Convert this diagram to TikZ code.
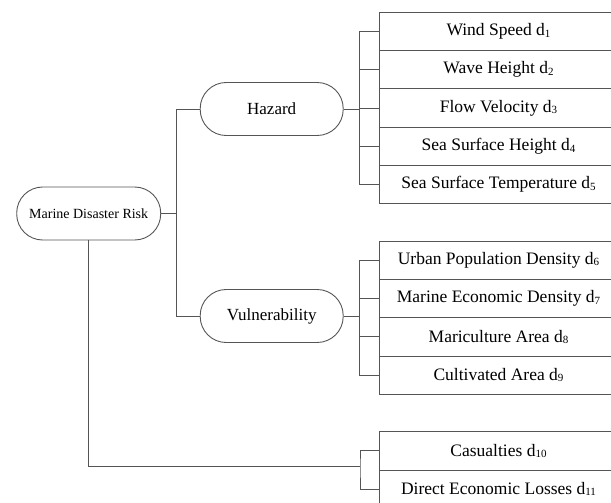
\documentclass[tikz,border=0pt]{standalone}
\usepackage{fontspec}
\setmainfont{Liberation Serif}
\usepackage{tikz}
\definecolor{linegray}{RGB}{85,85,85}
\newcommand{\idx}[1]{\raisebox{-0.2ex}{\fontsize{11}{11}\selectfont #1}}

\begin{document}
\begin{tikzpicture}[x=1pt,y=-1pt,line width=0.9pt,
    pill/.style={draw=linegray,rounded corners=26pt,minimum width=143pt,minimum height=53pt,
      inner sep=0pt,font=\fontsize{17}{20}\selectfont},
    factor/.style={draw=linegray,minimum width=238pt,minimum height=38.3pt,inner sep=0pt,
      font=\fontsize{17.5}{20}\selectfont},
    link/.style={draw=linegray}]
  \useasboundingbox (0,0) rectangle (611,503);
  \clip (0,0) rectangle (611,503);
  % left side
  \node[pill,minimum width=144pt,font=\fontsize{14}{16}\selectfont] (risk) at (88.7,213.5) {Marine Disaster Risk};
  \node[pill] (hazard) at (271.7,109) {Hazard};
  \node[pill] (vuln) at (271.7,316) {Vulnerability};
  % indicators
  \foreach \i/\t in {1/Wind Speed,2/Wave Height,3/Flow Velocity,4/Sea Surface Height,5/Sea Surface Temperature}{
    \node[factor] (d\i) at (498.5,{31.5+38.3*(\i-1)}) {\t\ d\idx{\i}};}
  \foreach \i/\t in {6/Urban Population Density,7/Marine Economic Density,8/Mariculture Area,9/Cultivated Area}{
    \node[factor] (d\i) at (498.5,{260.2+38.3*(\i-6)}) {\t\ d\idx{\i}};}
  \foreach \i/\t in {10/Casualties,11/Direct Economic Losses}{
    \node[factor] (d\i) at (498.5,{450.8+38.3*(\i-10)}) {\t\ d\idx{\i}};}
  % connectors
  \draw[link] (risk.east) -- ++(15,0) coordinate (rj);
  \draw[link] (hazard.west) -| (rj) |- (vuln.west);
  \draw[link] (hazard.east) -- ++(15.5,0) coordinate (hj);
  \draw[link] (hj |- d1.west) -- (hj |- d5.west);
  \foreach \i in {1,...,5}{\draw[link] (hj |- d\i.west) -- (d\i.west);}
  \draw[link] (vuln.east) -- ++(15.5,0) coordinate (vj);
  \draw[link] (vj |- d6.west) -- (vj |- d9.west);
  \foreach \i in {6,...,9}{\draw[link] (vj |- d\i.west) -- (d\i.west);}
  \coordinate (ij) at (360,466.7);
  \draw[link] (risk.south) |- (ij);
  \draw[link] (d10.west) -| (ij) |- (d11.west);
\end{tikzpicture}
\end{document}
